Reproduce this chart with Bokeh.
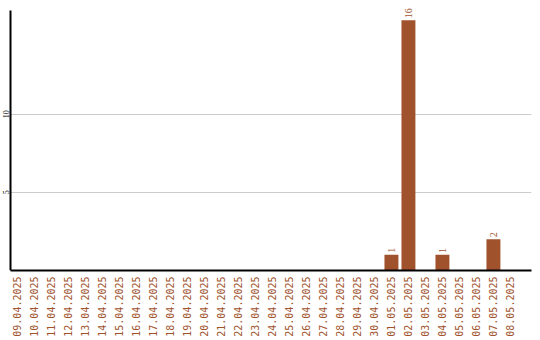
import math
from bokeh.plotting import figure
from bokeh.models import ColumnDataSource, Range1d, FixedTicker, LabelSet
from bokeh.embed import file_html
from bokeh.resources import INLINE

# Daily counts, one bar per day
dates = [
    "09.04.2025", "10.04.2025", "11.04.2025", "12.04.2025", "13.04.2025",
    "14.04.2025", "15.04.2025", "16.04.2025", "17.04.2025", "18.04.2025",
    "19.04.2025", "20.04.2025", "21.04.2025", "22.04.2025", "23.04.2025",
    "24.04.2025", "25.04.2025", "26.04.2025", "27.04.2025", "28.04.2025",
    "29.04.2025", "30.04.2025", "01.05.2025", "02.05.2025", "03.05.2025",
    "04.05.2025", "05.05.2025", "06.05.2025", "07.05.2025", "08.05.2025",
]
counts = [
    0, 0, 0, 0, 0, 0, 0, 0, 0, 0,
    0, 0, 0, 0, 0, 0, 0, 0, 0, 0,
    0, 0, 1, 16, 0, 1, 0, 0, 2, 0,
]
y_ticks = [5, 10]

BROWN = "#A0522D"
MONO = "DejaVu Sans Mono"

# plot area edges (data units); the frame also holds the tick-label margin
X_LEFT, X_RIGHT = -0.41, 30.24
Y_TOP = 16.63

idx = list(range(len(dates)))
src = ColumnDataSource(dict(x=idx, top=counts))
nz = [i for i, c in enumerate(counts) if c > 0]
lbl_src = ColumnDataSource(dict(
    x=[idx[i] for i in nz],
    y=[counts[i] for i in nz],
    label=[str(counts[i]) for i in nz],
))
ytick_src = ColumnDataSource(dict(y=y_ticks, label=[str(t) for t in y_ticks]))

p = figure(
    width=540, height=340,
    x_range=Range1d(-1.0, X_RIGHT), y_range=Range1d(0, 17.27),
    output_backend="svg", toolbar_location=None,
    min_border=0, min_border_top=0, min_border_right=9,
    min_border_bottom=70, min_border_left=0,
)
p.outline_line_color = None
p.background_fill_color = "white"

p.vbar(x="x", top="top", width=0.82, bottom=0, source=src,
       fill_color=BROWN, line_color=None)

# value labels above bars
p.add_layout(LabelSet(
    x="x", y="y", text="label", source=lbl_src,
    angle=math.pi / 2, text_align="left", text_baseline="middle",
    y_offset=2, text_font=MONO, text_font_size="10px", text_color=BROWN,
))

# grid
p.xgrid.visible = False
p.ygrid.ticker = FixedTicker(ticks=y_ticks)
p.ygrid.grid_line_color = "#cccccc"
p.ygrid.grid_line_width = 1
p.ygrid.cross_bounds = (X_LEFT, X_RIGHT)

# y axis line, pinned at the left edge of the plot area
p.yaxis.fixed_location = X_LEFT
p.yaxis.ticker = FixedTicker(ticks=y_ticks)
p.yaxis.bounds = (0, Y_TOP)
p.yaxis.major_label_overrides = {t: "" for t in y_ticks}
p.yaxis.major_label_standoff = 0
p.yaxis.major_tick_out = 0
p.yaxis.major_tick_in = 0
p.yaxis.minor_tick_out = 0
p.yaxis.minor_tick_in = 0
p.yaxis.major_tick_line_color = None
p.yaxis.minor_tick_line_color = None
p.yaxis.axis_line_color = "black"
p.yaxis.axis_line_width = 2

# y tick texts, rotated, left of the axis line
p.add_layout(LabelSet(
    x=5.5, x_units="screen", y="y", text="label", source=ytick_src,
    angle=math.pi / 2, text_align="center", text_baseline="middle",
    text_font=MONO, text_font_size="8px", text_color="black",
))

# x axis
p.xaxis.bounds = (X_LEFT, X_RIGHT)
p.xaxis.ticker = FixedTicker(ticks=idx)
p.xaxis.major_label_overrides = {i: d for i, d in zip(idx, dates)}
p.xaxis.major_label_orientation = math.pi / 2
p.xaxis.major_label_text_font = MONO
p.xaxis.major_label_text_font_size = "10px"
p.xaxis.major_label_text_color = BROWN
p.xaxis.major_label_standoff = 6
p.xaxis.major_tick_out = 0
p.xaxis.major_tick_in = 0
p.xaxis.minor_tick_out = 0
p.xaxis.minor_tick_in = 0
p.xaxis.major_tick_line_color = None
p.xaxis.minor_tick_line_color = None
p.xaxis.axis_line_color = "black"
p.xaxis.axis_line_width = 2

open("out.html", "w").write(file_html(p, INLINE))
